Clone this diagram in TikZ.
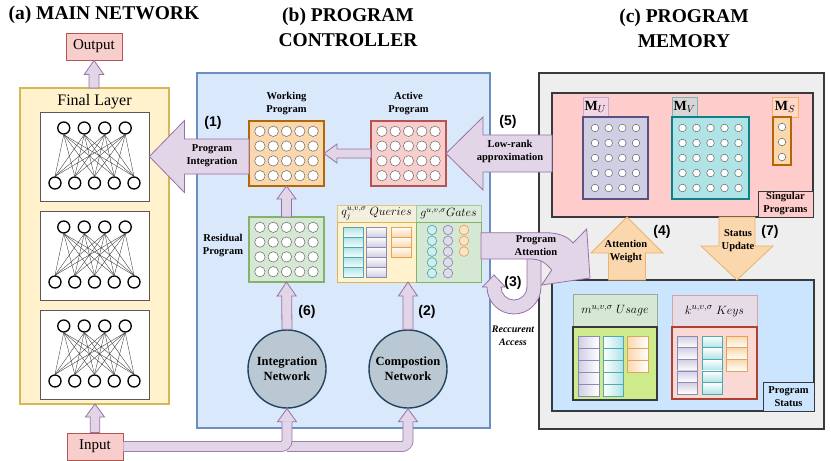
\documentclass[tikz,border=0pt]{standalone}
\usepackage{fontspec}
\setmainfont{Liberation Serif}
\newfontfamily\numfont{Liberation Sans}
\usetikzlibrary{calc}
\definecolor{ctrlFill}{HTML}{DAE8FC}
\definecolor{ctrlDraw}{HTML}{6C8EBF}
\definecolor{layerFill}{HTML}{FFF2CC}
\definecolor{layerDraw}{HTML}{D6B656}
\definecolor{ioFill}{HTML}{F8CECC}
\definecolor{ioDraw}{HTML}{B85450}
\definecolor{lilacFill}{HTML}{E1D5E7}
\definecolor{lilacDraw}{HTML}{9673A6}
\definecolor{memFill}{HTML}{EEEEEE}
\definecolor{memDraw}{HTML}{36393D}
\definecolor{singFill}{HTML}{FFCCCC}
\definecolor{statFill}{HTML}{CCE5FF}
\definecolor{wpFill}{HTML}{FAD7AC}
\definecolor{wpDraw}{HTML}{B46504}
\definecolor{rpFill}{HTML}{D5E8D4}
\definecolor{rpDraw}{HTML}{82B366}
\definecolor{netFill}{HTML}{BAC8D3}
\definecolor{netDraw}{HTML}{23445D}
\definecolor{uFill}{HTML}{D0CEE2}
\definecolor{uDraw}{HTML}{56517E}
\definecolor{vFill}{HTML}{B0E3E6}
\definecolor{vDraw}{HTML}{0E8088}
\definecolor{usageFill}{HTML}{CDEB8B}
\definecolor{keysFill}{HTML}{FAD9D5}
\definecolor{keysDraw}{HTML}{AE4132}
\definecolor{orangeDraw}{HTML}{EDB16B}
\definecolor{qhFill}{HTML}{F3F0DF}
\definecolor{qhDraw}{HTML}{E0C878}
\definecolor{ghFill}{HTML}{DCEADB}
\definecolor{ghDraw}{HTML}{A7C99A}
\definecolor{muhFill}{HTML}{F2D6E4}
\definecolor{muhDraw}{HTML}{C7A6CF}
\definecolor{mvhFill}{HTML}{D6D6D6}
\definecolor{mvhDraw}{HTML}{7FB2B4}
\definecolor{mshFill}{HTML}{FFD8C8}
\definecolor{mshDraw}{HTML}{F2B266}
\definecolor{uhDraw}{HTML}{9AA89A}
\definecolor{khFill}{HTML}{E6DCE8}
\definecolor{khDraw}{HTML}{D6A3A3}
\definecolor{cellTeal}{HTML}{4FA9AE}
\definecolor{cellLilac}{HTML}{8E89B5}
\definecolor{cellOrange}{HTML}{E5A35A}
\newcommand\lblfont{\fontsize{10.5}{13}\selectfont\bfseries}

\begin{document}
\begin{tikzpicture}[x=1pt, y=-1pt,
  panel/.style={rectangle, inner sep=0pt, outer sep=0pt, line width=2pt},
  mat/.style={rectangle, inner sep=0pt, outer sep=0pt, line width=1.4pt,
              minimum width=75pt, minimum height=65pt},
  hdr/.style={rectangle, inner sep=0pt, outer sep=0pt, line width=0.9pt,
              font=\fontsize{12}{12}\selectfont},
  tag/.style={rectangle, draw=memDraw, fill=#1, line width=1pt, inner sep=1.5pt,
              align=center, font=\lblfont},
  iobox/.style={rectangle, draw=ioDraw, fill=ioFill, line width=0.8pt,
                minimum width=56pt, minimum height=27pt, inner sep=0pt,
                font=\fontsize{15}{15}\selectfont},
  netbox/.style={rectangle, draw=black!65, fill=white, line width=0.8pt,
                 minimum width=109pt, minimum height=89pt, inner sep=0pt},
  neuron/.style={circle, draw=black, fill=white, line width=1.3pt,
                 minimum size=12pt, inner sep=0pt},
  netedge/.style={black!80, line width=0.35pt},
  mdot/.style={draw=black!60, fill=white, line width=0.5pt},
  cnet/.style={circle, draw=netDraw, fill=netFill, line width=1.4pt,
               minimum size=78pt, inner sep=0pt, align=center,
               font=\fontsize{12.5}{15}\selectfont\bfseries},
  lbl/.style={align=center, font=\lblfont},
  numlbl/.style={font=\numfont\bfseries\fontsize{14}{14}\selectfont},
  ttl/.style={align=center, font=\bfseries\fontsize{19.5}{25}\selectfont},
  lilacfat/.style={fill=lilacFill, draw=lilacDraw, line width=0.8pt},
  orangefat/.style={fill=wpFill, draw=orangeDraw, line width=0.8pt},
  band/.style={draw=lilacDraw, line width=0.8pt, double=lilacFill,
               double distance=9.2pt, rounded corners=6pt},
  qteal/.style={top color=vFill, bottom color=vFill!15, draw=cellTeal, line width=0.6pt},
  qlilac/.style={top color=white, bottom color=uFill, draw=cellLilac, line width=0.6pt},
  qorange/.style={top color=white, bottom color=wpFill, draw=cellOrange, line width=0.6pt},
  % shaft half width / head half width / head length
  fatarrow/.style n args={3}{to path={
    let \p1=($(\tikztotarget)!#3!(\tikztostart)$) in
    ($(\tikztostart)!#1!90:(\tikztotarget)$) -- ($(\p1)!#1!90:(\tikztotarget)$)
    -- ($(\p1)!#2!90:(\tikztotarget)$) -- (\tikztotarget)
    -- ($(\p1)!#2!-90:(\tikztotarget)$) -- ($(\p1)!#1!-90:(\tikztotarget)$)
    -- ($(\tikztostart)!#1!-90:(\tikztotarget)$) -- cycle}},
  fathead/.style 2 args={to path={
    ($(\tikztostart)!#1!90:(\tikztotarget)$) -- ($(\tikztostart)!#2!90:(\tikztotarget)$)
    -- (\tikztotarget) -- ($(\tikztostart)!#2!-90:(\tikztotarget)$)
    -- ($(\tikztostart)!#1!-90:(\tikztotarget)$)}},
]
\path[use as bounding box, fill=white] (0,0) rectangle (831,461);

%%──────────────────────────────────────────────────────────────────
%% TITLES
%%──────────────────────────────────────────────────────────────────
\node[ttl, anchor=west] (ttlA) at (5,15) {(a) MAIN NETWORK};
\node[ttl] (ttlB) at (348,27) {(b) PROGRAM\\CONTROLLER};
\node[ttl] (ttlC) at (684,28) {(c) PROGRAM\\MEMORY};

%%──────────────────────────────────────────────────────────────────
%% (a) MAIN NETWORK
%%──────────────────────────────────────────────────────────────────
\node[iobox] (out) at (94,46.5) {Output};
\node[panel, draw=layerDraw, fill=layerFill, minimum width=149pt,
      minimum height=316pt] (final) at (94.5,246) {};
\node[font=\fontsize{16}{16}\selectfont] (finallbl) at (94.5,102) {Final Layer};

% three fully connected layers
\foreach \k/\cy in {1/156.5,2/255.5,3/354.5}{
  \node[netbox] (net\k) at (94.5,\cy) {};
  \foreach \i/\dx in {1/-30.75,2/-10.25,3/10.25,4/30.75}
    \node[neuron] (t\k\i) at ($(net\k)+(\dx,-28.5)$) {};
  \foreach \j/\dx in {1/-39.5,2/-19.75,3/0,4/19.75,5/39.5}
    \node[neuron] (b\k\j) at ($(net\k)+(\dx,26.5)$) {};
  \foreach \i in {1,...,4}
    \foreach \j in {1,...,5}
      \draw[netedge] (t\k\i.south) -- (b\k\j.north);
}

\node[iobox] (in) at (95,446.5) {Input};
\draw[lilacfat, fatarrow={5pt}{9.7pt}{14pt}] (out.south |- final.north) to (out.south);
\draw[lilacfat, fatarrow={4.7pt}{9.5pt}{13pt}] (in.north) to (in.north |- final.south);

%%──────────────────────────────────────────────────────────────────
%% (b) PROGRAM CONTROLLER
%%──────────────────────────────────────────────────────────────────
\node[panel, draw=ctrlDraw, fill=ctrlFill, minimum width=293pt,
      minimum height=355pt] (ctrl) at (343.5,250.5) {};

% program matrices
\node[mat, draw=wpDraw, fill=wpFill] (wp) at (286.5,153.5) {};
\node[mat, draw=ioDraw, fill=ioFill] (ap) at (408.5,153.5) {};
\node[mat, draw=rpDraw, fill=rpFill] (rp) at (286.5,249.5) {};
\foreach \m in {wp,ap,rp}
  \foreach \dx in {-26.6,-13.3,0,13.3,26.6}
    \foreach \dy in {-22.2,-7.4,7.4,22.2}
      \draw[mdot] ($(\m)+(\dx,\dy)$) circle[radius=5.2pt];

\node[lbl] (wplbl) at ($(wp.north)+(0,-17)$) {Working\\Program};
\node[lbl] (aplbl) at ($(ap.north)+(0,-17)$) {Active\\Program};
\node[lbl] (rplbl) at ($(rp.west)+(-26,-4)$) {Residual\\Program};

% queries and gates
\node[hdr, draw=qhDraw, fill=qhFill, minimum width=79pt, minimum height=17pt]
      (qh) at (376.5,213.5) {$q_j^{u,v,\sigma}\ Queries$};
\node[hdr, draw=layerDraw, fill=layerFill, minimum width=79pt, minimum height=60pt]
      (qb) at (376.5,252) {};
\node[hdr, draw=ghDraw, fill=ghFill, minimum width=65pt, minimum height=17pt]
      (gh) at (448.5,213.5) {$g^{u,v,\sigma} Gates$};
\node[hdr, draw=rpDraw, fill=rpFill, minimum width=65pt, minimum height=60pt]
      (gb) at (448.5,252) {};

\foreach \k in {0,...,4}{
  \shadedraw[qteal] ($(qb.north west)+(6,5+10*\k)$) rectangle +(20,10);
  \shadedraw[qlilac] ($(qb.north west)+(29,5+10*\k)$) rectangle +(20,10);
  \draw[fill=vFill!60, draw=cellTeal, line width=0.7pt]
       ($(gb.north west)+(16,8+10.8*\k)$) circle[radius=4.8pt];
  \draw[fill=uFill!70, draw=cellLilac, line width=0.7pt]
       ($(gb.north west)+(32,8+10.8*\k)$) circle[radius=4.8pt];
}
\foreach \k in {0,1,2}{
  \shadedraw[qorange] ($(qb.north west)+(54,5+10*\k)$) rectangle +(20,10);
  \draw[fill=wpFill!70, draw=cellOrange, line width=0.7pt]
       ($(gb.north west)+(48,8+10.8*\k)$) circle[radius=4.8pt];
}

% networks
\node[cnet] (intnet) at (287,369) {Integration\\Network};
\node[cnet] (compnet) at (408,369) {Compostion\\Network};

\draw[lilacfat, fatarrow={4.5pt}{9.5pt}{13pt}] (ap.west) to (wp.east);
\draw[lilacfat, fatarrow={5pt}{9.5pt}{13pt}] (rp.north) to (wp.south);
\draw[lilacfat, fatarrow={5pt}{9.5pt}{14pt}] (intnet.north) to (rp.south);
\draw[lilacfat, fatarrow={5pt}{9.5pt}{14pt}] (compnet.north) to (compnet.north |- qb.south);

% input feeds
\coordinate (hb1) at ($(intnet.south)+(0,13)$);
\coordinate (hb2) at ($(compnet.south)+(0,13)$);
\draw[band] (hb1 |- in.east) -| (hb2);
\draw[band] (in.east) -| (hb1);
\filldraw[lilacfat, fathead={5pt}{9.5pt}] (hb1) to (intnet.south);
\filldraw[lilacfat, fathead={5pt}{9.5pt}] (hb2) to (compnet.south);

%%──────────────────────────────────────────────────────────────────
%% (c) PROGRAM MEMORY
%%──────────────────────────────────────────────────────────────────
\node[panel, draw=memDraw, fill=memFill, line width=2.4pt, minimum width=285pt,
      minimum height=356pt] (mem) at (681.5,251) {};

% singular programs
\node[panel, draw=memDraw, fill=singFill, line width=2.4pt, minimum width=261pt,
      minimum height=124pt] (sing) at (682.5,155) {};
\node[tag=singFill, minimum width=55pt, minimum height=26pt] (singlbl)
      at (785.5,204) {Singular\\Programs};

\node[hdr, draw=muhDraw, fill=muhFill, minimum width=25pt, minimum height=20pt,
      font=\fontsize{14}{14}\selectfont] (muh) at (595.5,107) {$\mathbf{M}_U$};
\node[mat, draw=uDraw, fill=uFill, minimum width=65pt, minimum height=82pt]
      (mu) at (615.5,158) {};
\node[hdr, draw=mvhDraw, fill=mvhFill, minimum width=25pt, minimum height=20pt,
      font=\fontsize{14}{14}\selectfont] (mvh) at (684.5,107) {$\mathbf{M}_V$};
\node[mat, draw=vDraw, fill=vFill, minimum width=77pt, minimum height=82pt]
      (mv) at (710.5,158) {};
\node[hdr, draw=mshDraw, fill=mshFill, minimum width=26pt, minimum height=20pt,
      font=\fontsize{14}{14}\selectfont] (msh) at (785,107) {$\mathbf{M}_S$};
\node[mat, draw=wpDraw, fill=wpFill, minimum width=18pt, minimum height=48pt]
      (ms) at (782,141) {};

\foreach \dy in {-30,-15,0,15,30}{
  \foreach \dx in {-20.5,-6.8,6.8,20.5}
    \draw[mdot] ($(mu)+(\dx,\dy)$) circle[radius=3.8pt];
  \foreach \dx in {-28,-14,0,14,28}
    \draw[mdot] ($(mv)+(\dx,\dy)$) circle[radius=3.8pt];
}
\foreach \dy in {-14,1,16}
  \draw[mdot] ($(ms)+(0,\dy)$) circle[radius=3.8pt];

% program status
\node[panel, draw=memDraw, fill=statFill, line width=2.4pt, minimum width=262pt,
      minimum height=131pt] (stat) at (683,345.5) {};
\node[tag=statFill, minimum width=51pt, minimum height=29pt] (statlbl)
      at (788.5,396.5) {Program\\Status};

\node[hdr, draw=uhDraw, fill=rpFill, minimum width=84pt, minimum height=33pt,
      font=\fontsize{12.5}{12}\selectfont] (uh) at (615,310.5) {$m^{u,v,\sigma}\ Usage$};
\node[hdr, draw=memDraw, fill=usageFill, line width=1.2pt, minimum width=84pt,
      minimum height=73pt] (ub) at (615,363.5) {};
\node[hdr, draw=khDraw, fill=khFill, minimum width=85pt, minimum height=32pt,
      font=\fontsize{12.5}{12}\selectfont] (kh) at (714.5,311) {$k^{u,v,\sigma}\ Keys$};
\node[hdr, draw=keysDraw, fill=keysFill, line width=1.2pt, minimum width=85pt,
      minimum height=72pt] (kb) at (714.5,363) {};

\foreach \k in {0,...,4}{
  \shadedraw[left color=uFill, right color=white, draw=cellLilac, line width=0.6pt]
     ($(ub.north west)+(5,9+12*\k)$) rectangle +(21,12);
  \shadedraw[left color=white, right color=vFill, draw=cellTeal, line width=0.6pt]
     ($(ub.north west)+(30,9+12*\k)$) rectangle +(20,12);
  \shadedraw[top color=uFill, bottom color=white, draw=cellLilac, line width=0.6pt]
     ($(kb.north west)+(5,9+11.6*\k)$) rectangle +(20,11.6);
  \shadedraw[top color=white, bottom color=vFill, draw=cellTeal, line width=0.6pt]
     ($(kb.north west)+(30,9+11.6*\k)$) rectangle +(20,11.6);
}
\foreach \k in {0,1,2}{
  \shadedraw[left color=wpFill, right color=white, draw=cellOrange, line width=0.6pt]
     ($(ub.north west)+(54,9+12*\k)$) rectangle +(21,12);
  \shadedraw[top color=wpFill, bottom color=white, draw=cellOrange, line width=0.6pt]
     ($(kb.north west)+(54,9+11.7*\k)$) rectangle +(21,11.7);
}

% attention weight (4) and status update (7)
\coordinate (awfoot) at ($(stat.north)+(-56,0)$);
\coordinate (sutop) at ($(sing.south)+(54.5,0)$);
\draw[orangefat, fatarrow={18.5pt}{36pt}{36pt}] (awfoot) to (awfoot |- sing.south);
\draw[orangefat, fatarrow={18pt}{36pt}{34pt}] (sutop) to (sutop |- stat.north);
\node[lbl] (awlbl) at (626,252) {Attention\\Weight};
\node[lbl] (sulbl) at (738,240.5) {Status\\Update};

%%──────────────────────────────────────────────────────────────────
%% CROSS-PANEL ARROWS
%%──────────────────────────────────────────────────────────────────
% (1) program integration
\draw[lilacfat, fatarrow={17.5pt}{36pt}{35pt}] (wp.west |- net1.east) to (net1.east);
\node[lbl] (pilbl) at (212,155.5) {Program\\Integration};

% (5) low-rank approximation
\draw[lilacfat, fatarrow={18.5pt}{36.5pt}{37pt}] (sing.west |- ap.east) to (ap.east);
\node[lbl] (lrlbl) at (510,151.5) {Low-rank\\approximation};

% (3) program attention + recurrent access
\begin{scope}[shift={(gb.east)}]
  \draw[lilacfat] (60,3) -- (60,35) arc[start angle=0, end angle=-180, radius=27pt]
        -- (1.5,35) -- (13,23) -- (24.5,35) -- (20,35)
        arc[start angle=180, end angle=360, radius=13pt] -- (46,3) -- cycle;
  \draw[lilacfat] (0,-19.3) -- (64,-19.3) .. controls (79,-19.3) and (87,-15) .. (92,-9)
        -- (105.7,-23) -- (109,26) -- (60.7,33) -- (70.7,18)
        .. controls (64,10) and (59,7) .. (49,7) -- (0,7) -- cycle;
\end{scope}
\node[lbl] (palbl) at (536,245.5) {Program\\Attention};
\node[align=center, font=\fontsize{10}{13}\selectfont\bfseries\itshape] (ralbl)
      at (513,335.5) {Reccurent\\Access};

% step numbers
\node[numlbl] (s1) at (213,123) {(1)};
\node[numlbl] (s2) at (427,312) {(2)};
\node[numlbl] (s3) at (513,283) {(3)};
\node[numlbl] (s4) at (662,232) {(4)};
\node[numlbl] (s5) at (508,122) {(5)};
\node[numlbl] (s6) at (307,312) {(6)};
\node[numlbl] (s7) at (770,232) {(7)};

\end{tikzpicture}
\end{document}
